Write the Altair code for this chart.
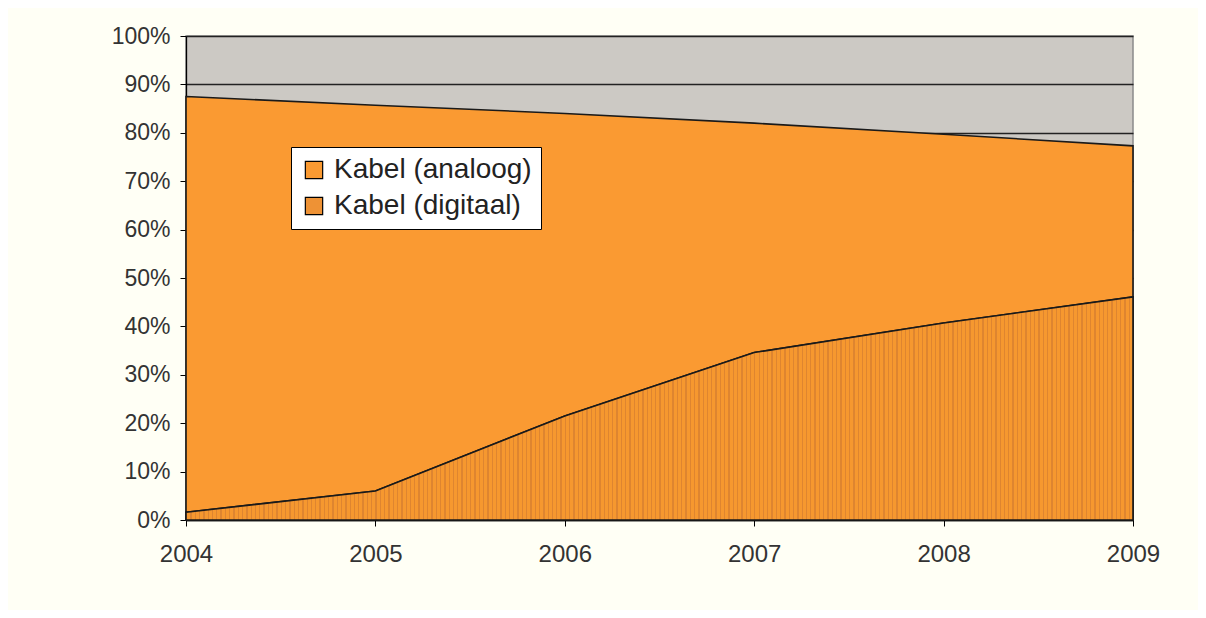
import altair as alt
import pandas as pd

years = [2004, 2005, 2006, 2007, 2008, 2009]
digitaal = [1.6, 6.0, 21.5, 34.6, 40.7, 46.1]
analoog = [85.9, 79.7, 62.5, 47.4, 39.0, 31.2]
series = ["Kabel (analoog)", "Kabel (digitaal)"]
colors = ["#FA9A32", "#EE9235"]
y_ticks = [0, 10, 20, 30, 40, 50, 60, 70, 80, 90, 100]

rows = []
for i, yr in enumerate(years):
    rows.append({"jaar": yr, "serie": series[1], "aandeel": digitaal[i] / 100, "volg": 0})
    rows.append({"jaar": yr, "serie": series[0], "aandeel": analoog[i] / 100, "volg": 1})
df = pd.DataFrame(rows)
df_dig = pd.DataFrame({"jaar": years, "aandeel": [d / 100 for d in digitaal]})

font = "Liberation Sans"

# dotted texture approximated by thin vertical stripes (gradient fill)
base = "#F6982F"
dark = "#DE8530"
n_stripes = 220
w = 1.3 / 947
stops = []
for k in range(n_stripes):
    a = k / n_stripes
    stops += [alt.GradientStop(offset=a, color=base),
              alt.GradientStop(offset=a, color=dark),
              alt.GradientStop(offset=min(a + w, 1), color=dark),
              alt.GradientStop(offset=min(a + w, 1), color=base)]
stops.append(alt.GradientStop(offset=1, color=base))
texture = alt.LinearGradient(gradient="linear", stops=stops, x1=0, x2=1, y1=0, y2=0)

xscale = alt.Scale(domain=[2004, 2009], nice=False, zero=False)
yscale = alt.Scale(domain=[0, 1], nice=False)

stacked = alt.Chart(df).mark_area(stroke="#1a1a1a", strokeWidth=1.6, interpolate="linear").encode(
    x=alt.X("jaar:Q", scale=xscale,
            axis=alt.Axis(values=years, format="d", title=None, grid=False,
                          labelFontSize=24, labelFont=font, labelColor="#333333",
                          labelFlush=False,
                          domainColor="#000000", domainWidth=1.3, tickColor="#000000",
                          tickSize=6, labelPadding=16)),
    y=alt.Y("aandeel:Q", stack="zero", scale=yscale,
            axis=alt.Axis(values=[v / 100 for v in y_ticks], format=".0%", title=None,
                          grid=True, gridColor="#222222", gridWidth=1.3,
                          labelFontSize=23, labelFont=font, labelColor="#333333",
                          domainColor="#000000", domainWidth=1.3, tickColor="#000000",
                          tickSize=6, labelPadding=10)),
    color=alt.Color("serie:N", scale=alt.Scale(domain=series, range=colors),
                    legend=alt.Legend(orient="none", legendX=105, legendY=111, title=None,
                                      fillColor="#FFFFFF", strokeColor="#000000",
                                      padding=9, labelFontSize=28, labelFont=font,
                                      labelColor="#222222", symbolType="square",
                                      symbolSize=300, symbolStrokeColor="#000000",
                                      symbolStrokeWidth=1.2, rowPadding=8,
                                      labelOffset=6, labelLimit=400)),
    order=alt.Order("volg:Q"),
)

overlay = alt.Chart(df_dig).mark_area(color=texture, stroke="#1a1a1a", strokeWidth=1.6,
                                       interpolate="linear").encode(
    x=alt.X("jaar:Q", scale=xscale),
    y=alt.Y("aandeel:Q", scale=yscale),
)

chart = alt.layer(stacked, overlay).properties(
    width=947, height=484,
    autosize=alt.AutoSizeParams(type="none"),
    padding={"left": 178, "top": 28, "right": 65, "bottom": 90},
    background="#FFFFF5",
).configure_view(
    fill="#CCC9C4", stroke="#8a8a8a", strokeWidth=1.5
)

chart.save("out.html", embed_options={"renderer": "svg", "actions": False})
